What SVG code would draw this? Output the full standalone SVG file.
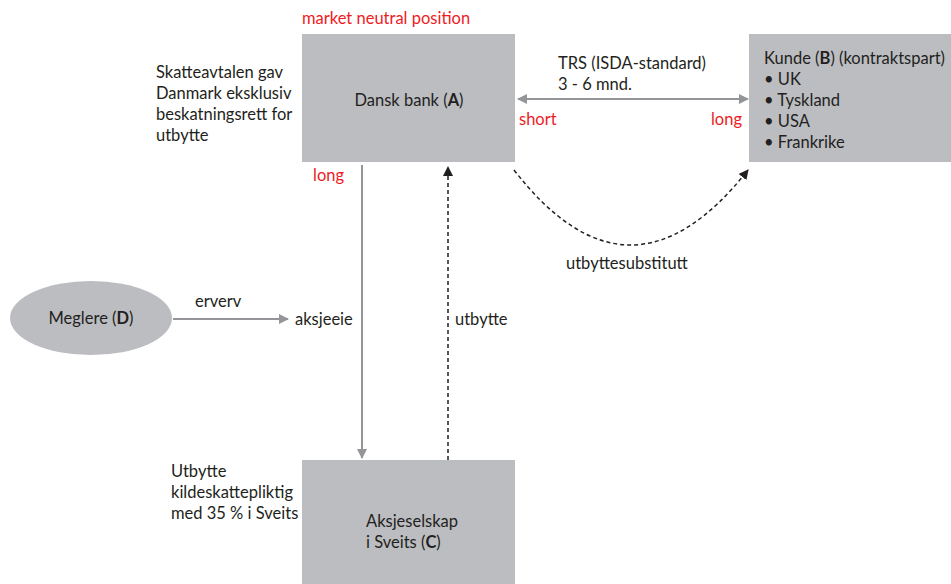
<svg xmlns="http://www.w3.org/2000/svg" width="951" height="584" viewBox="0 0 951 584">
<style>
text{font-family:Lato,"Liberation Sans",sans-serif;font-size:16.5px;fill:#231f20}
.red{fill:#ed1c24}
.box{fill:#bcbdc0}
.g{stroke:#939598;stroke-width:2;fill:none}
.d{stroke:#231f20;stroke-width:1.5;fill:none;stroke-dasharray:4 3}
</style>
<defs>
<marker id="ag" markerWidth="10" markerHeight="10" refX="9" refY="5" orient="auto-start-reverse" markerUnits="userSpaceOnUse"><path d="M0,0 L10,5 L0,10 z" fill="#939598"/></marker>
<marker id="ab" markerWidth="10" markerHeight="10" refX="9" refY="5" orient="auto" markerUnits="userSpaceOnUse"><path d="M0,0 L10,5 L0,10 z" fill="#231f20"/></marker>
</defs>
<rect width="951" height="584" fill="#fff"/>
<g id="bank">
<rect class="box" x="302" y="34" width="213" height="128"/>
<text x="409" y="106" text-anchor="middle">Dansk bank (<tspan font-weight="bold">A</tspan>)</text>
<text class="red" x="302" y="24">market neutral position</text>
</g>
<g id="kunde">
<rect class="box" x="749" y="34" width="202" height="128"/>
<text x="764" y="64">Kunde (<tspan font-weight="bold">B</tspan>) (kontraktspart)</text>
<text x="764" y="85">• UK</text>
<text x="764" y="106">• Tyskland</text>
<text x="764" y="127">• USA</text>
<text x="764" y="148">• Frankrike</text>
</g>
<g id="aksjeselskap">
<rect class="box" x="302" y="460" width="213" height="124"/>
<text x="366" y="527">Aksjeselskap</text>
<text x="366" y="548">i Sveits (<tspan font-weight="bold">C</tspan>)</text>
</g>
<g id="meglere">
<ellipse class="box" cx="91" cy="318" rx="81" ry="37"/>
<text x="91" y="324" text-anchor="middle">Meglere (<tspan font-weight="bold">D</tspan>)</text>
</g>
<g id="notes">
<text x="156" y="78">Skatteavtalen gav</text>
<text x="156" y="99">Danmark eksklusiv</text>
<text x="156" y="120">beskatningsrett for</text>
<text x="156" y="141">utbytte</text>
<text x="171" y="477">Utbytte</text>
<text x="171" y="498">kildeskattepliktig</text>
<text x="171" y="519">med 35 % i Sveits</text>
</g>
<g id="connectors">
<line class="g" x1="518" y1="99" x2="748" y2="99" marker-start="url(#ag)" marker-end="url(#ag)"/>
<line class="g" x1="362" y1="165" x2="362" y2="458" marker-end="url(#ag)"/>
<line class="d" x1="448" y1="460" x2="448" y2="167" marker-end="url(#ab)"/>
<path class="d" d="M514,170 Q630,320 748,170" marker-end="url(#ab)"/>
<line class="g" x1="173" y1="319" x2="288" y2="319" marker-end="url(#ag)"/>
<text x="558" y="69">TRS (ISDA-standard)</text>
<text x="558" y="90">3 - 6 mnd.</text>
<text class="red" x="519" y="125">short</text>
<text class="red" x="742" y="125" text-anchor="end">long</text>
<text class="red" x="313" y="181">long</text>
<text x="566" y="269">utbyttesubstitutt</text>
<text x="195" y="307">erverv</text>
<text x="295" y="325">aksjeeie</text>
<text x="455" y="325">utbytte</text>
</g>
</svg>
